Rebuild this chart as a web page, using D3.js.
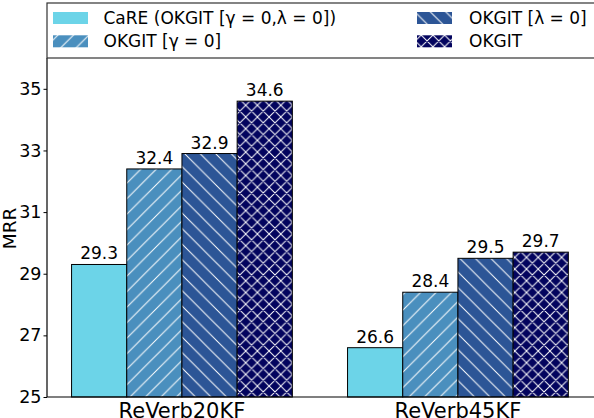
<!DOCTYPE html>
<html>
<head>
<meta charset="utf-8">
<script src="https://cdn.jsdelivr.net/npm/d3@7"></script>
<style>
  html, body { margin: 0; padding: 0; background: #fff; }
  svg { display: block; font-family: "DejaVu Sans", sans-serif; }
</style>
</head>
<body>
<svg id="chart" width="594" height="418"></svg>
<script>
// ---- data ----
const categories = ["ReVerb20KF", "ReVerb45KF"];
const seriesNames = ["CaRE (OKGIT [γ = 0,λ = 0])", "OKGIT [γ = 0]", "OKGIT [λ = 0]", "OKGIT"];
const careValues = [29.3, 26.6];
const gammaZeroValues = [32.4, 28.4];
const lambdaZeroValues = [32.9, 29.5];
const okgitValues = [34.6, 29.7];
const yTickValues = [25, 27, 29, 31, 33, 35];

const seriesValues = [careValues, gammaZeroValues, lambdaZeroValues, okgitValues];
const seriesColors = ["#6cd4e8", "#4a8fbe", "#2c5596", "#03045e"];
const seriesHatch = ["none", "slash", "backslash", "cross"];

// ---- layout ----
const plotLeft = 47, plotRight = 594, plotTop = 58, plotBottom = 397;
const barW = 0.2;
const offsets = [-0.3, -0.1, 0.1, 0.3];

const svg = d3.select("#chart");

const x = d3.scaleLinear().domain([-0.489, 1.493]).range([plotLeft, plotRight]);
const y = d3.scaleLinear().domain([25, 36]).range([plotBottom, plotTop]);

// ---- patterns ----
const defs = svg.append("defs");
function makePattern(id, color, kind) {
  if (kind === "none") return;
  const S = kind === "cross" ? 11.7 : 15.5;
  const p = defs.append("pattern").attr("id", id)
    .attr("patternUnits", "userSpaceOnUse")
    .attr("width", S).attr("height", S);
  p.append("rect").attr("width", S).attr("height", S).attr("fill", color);
  const fw = `M0,${S} L${S},0 M${-S/4},${S/4} L${S/4},${-S/4} M${3*S/4},${5*S/4} L${5*S/4},${3*S/4}`;
  const bw = `M0,0 L${S},${S} M${-S/4},${3*S/4} L${S/4},${5*S/4} M${3*S/4},${-S/4} L${5*S/4},${S/4}`;
  const d = kind === "slash" ? fw : kind === "backslash" ? bw : fw + " " + bw;
  p.append("path").attr("d", d).attr("stroke", "#fff").attr("stroke-width", 1).attr("fill", "none");
}
seriesColors.forEach((c, i) => makePattern("hatch" + i, c, seriesHatch[i]));
const fillFor = i => seriesHatch[i] === "none" ? seriesColors[i] : `url(#hatch${i})`;

// ---- bars ----
seriesValues.forEach((vals, si) => {
  const g = svg.append("g");
  g.selectAll("rect").data(vals).join("rect")
    .attr("x", (d, ci) => x(ci + offsets[si] - barW / 2))
    .attr("y", d => y(d))
    .attr("width", x(barW) - x(0))
    .attr("height", d => y(25) - y(d))
    .attr("fill", fillFor(si))
    .attr("stroke", "#000")
    .attr("stroke-width", 1);
  g.selectAll("text").data(vals).join("text")
    .attr("x", (d, ci) => x(ci + offsets[si]))
    .attr("y", d => y(d) - 5)
    .attr("text-anchor", "middle")
    .attr("font-size", "17px")
    .attr("fill", "#000")
    .text(d => d.toFixed(1));
});

// ---- axes ----
const yAxis = d3.axisLeft(y).tickValues(yTickValues).tickSize(3.5).tickPadding(2).tickFormat(d3.format("d"));
const yg = svg.append("g").attr("transform", `translate(${plotLeft},0)`).call(yAxis);
yg.select(".domain").remove();
yg.selectAll("text").attr("font-size", "17.5px").attr("font-family", "DejaVu Sans").attr("fill", "#000");
yg.selectAll("line").attr("stroke", "#000");

// spines
svg.append("line").attr("x1", plotLeft).attr("x2", plotLeft).attr("y1", plotTop).attr("y2", plotBottom).attr("stroke", "#000").attr("stroke-width", 1.2);
svg.append("line").attr("x1", plotLeft).attr("x2", plotRight).attr("y1", plotBottom).attr("y2", plotBottom).attr("stroke", "#000").attr("stroke-width", 1.2);

// x tick labels
svg.append("g").selectAll("text").data(categories).join("text")
  .attr("x", (d, i) => x(i))
  .attr("y", 417.5)
  .attr("text-anchor", "middle")
  .attr("font-size", "21px")
  .attr("fill", "#000")
  .text(d => d);

// y label
svg.append("text")
  .attr("transform", `translate(16,${(plotTop + plotBottom) / 2 + 1}) rotate(-90)`)
  .attr("text-anchor", "middle")
  .attr("font-size", "18.5px")
  .attr("fill", "#000")
  .text("MRR");

// ---- legend ----
const lg = svg.append("g");
lg.append("rect").attr("x", plotLeft).attr("y", 3).attr("width", 560).attr("height", plotTop - 3)
  .attr("fill", "#fff").attr("stroke", "#333").attr("stroke-width", 1.2);
const legendPos = [
  { hx: 53, tx: 103.5, ty: 24 },
  { hx: 53, tx: 103.5, ty: 47.3 },
  { hx: 417, tx: 469, ty: 24 },
  { hx: 417, tx: 469, ty: 47.3 }
];
seriesNames.forEach((name, i) => {
  const p = legendPos[i];
  lg.append("rect").attr("x", p.hx).attr("y", p.ty - 12).attr("width", 35).attr("height", 12)
    .attr("fill", fillFor(i));
  lg.append("text").attr("x", p.tx).attr("y", p.ty).attr("font-size", "17px").attr("fill", "#000").text(name);
});
</script>
</body>
</html>
